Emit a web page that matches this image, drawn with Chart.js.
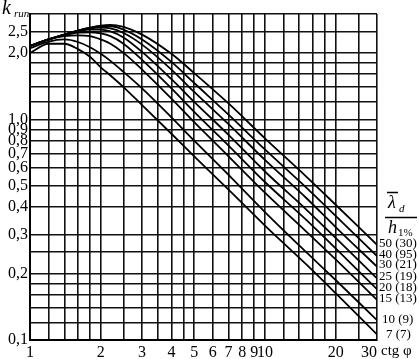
<!DOCTYPE html>
<html>
<head>
<meta charset="utf-8">
<script src="https://cdn.jsdelivr.net/npm/chart.js@4/dist/chart.umd.min.js"></script>
<style>
  html, body { margin: 0; padding: 0; background: #fff; }
  #wrap { width: 419px; height: 359px; }
</style>
</head>
<body>
<div id="wrap"><canvas id="chart" width="419" height="359"></canvas></div>
<script>
// ============================================================
// Data
// ============================================================
const xValues = [1, 1.2, 1.4, 1.6, 1.8, 2, 2.2, 2.5, 3, 4, 5, 7, 10, 15, 20, 30];

const k50 = [2.15, 2.3, 2.42, 2.52, 2.6, 2.66, 2.68, 2.62, 2.42, 1.98, 1.62, 1.18, 0.82, 0.55, 0.41, 0.27];
const k40 = [2.15, 2.3, 2.42, 2.52, 2.6, 2.64, 2.64, 2.55, 2.3, 1.82, 1.46, 1.05, 0.73, 0.49, 0.365, 0.24];
const k30 = [2.15, 2.3, 2.42, 2.52, 2.58, 2.6, 2.58, 2.46, 2.18, 1.68, 1.33, 0.95, 0.655, 0.44, 0.325, 0.215];
const k25 = [2.15, 2.3, 2.42, 2.5, 2.55, 2.55, 2.5, 2.35, 2.02, 1.52, 1.2, 0.85, 0.58, 0.39, 0.29, 0.19];
const k20 = [2.15, 2.3, 2.4, 2.47, 2.48, 2.45, 2.38, 2.2, 1.86, 1.38, 1.08, 0.76, 0.52, 0.35, 0.26, 0.17];
const k15 = [2.15, 2.3, 2.38, 2.4, 2.38, 2.3, 2.2, 2.0, 1.68, 1.24, 0.97, 0.68, 0.465, 0.31, 0.232, 0.152];
const k10 = [2.1, 2.25, 2.3, 2.24, 2.12, 1.98, 1.84, 1.64, 1.38, 1.02, 0.8, 0.56, 0.38, 0.25, 0.187, 0.123];
const k7  = [2.0, 2.2, 2.2, 2.08, 1.92, 1.72, 1.58, 1.4, 1.16, 0.86, 0.68, 0.48, 0.33, 0.22, 0.163, 0.106];

const seriesList = [k50, k40, k30, k25, k20, k15, k10, k7];
const seriesNames = ["50 (30)", "40 (95)", "30 (21)", "25 (19)", "20 (18)", "15 (13)", "10 (9)", "7 (7)"];

// grid of the log paper and the values that carry a label
const xGrid = [1, 1.2, 1.4, 1.6, 1.8, 2, 2.5, 3, 3.5, 4, 4.5, 5, 6, 7, 8, 9, 10, 12, 14, 16, 18, 20, 25, 30];
const xTickLabels = [1, 2, 3, 4, 5, 6, 7, 8, 9, 10, 20, 30];
const yGrid = [0.1, 0.12, 0.14, 0.16, 0.18, 0.2, 0.25, 0.3, 0.4, 0.5, 0.6, 0.7, 0.8, 0.9, 1, 1.2, 1.4, 1.6, 1.8, 2, 2.5, 3];
const yTickLabels = [0.1, 0.2, 0.3, 0.4, 0.5, 0.6, 0.7, 0.8, 0.9, 1, 2, 2.5];

// ============================================================
// Helpers
// ============================================================
const SERIF = "'Liberation Serif', 'DejaVu Serif', serif";
const fmtComma = (v) => v.toFixed(1).replace(".", ",");
const near = (a, b) => Math.abs(a - b) < 1e-6;

function xLabel(v) {
  if (!xTickLabels.some((t) => near(t, v))) return "";
  // last label sits left of the line so "ctg φ" fits after it
  return near(v, 30) ? "30\u2003" : String(v);
}

// label y positions beside the right border (layout only)
const nameY = [244, 255, 265, 277, 288, 299, 320, 335];

const textPlugin = {
  id: "textPlugin",
  afterDraw(chart) {
    const ctx = chart.ctx;
    const area = chart.chartArea;
    ctx.save();
    ctx.fillStyle = "#000";
    ctx.strokeStyle = "#000";
    ctx.textAlign = "left";
    ctx.textBaseline = "alphabetic";

    // axis title k_run
    ctx.font = "italic 20px " + SERIF;
    ctx.fillText("k", 2, 14);
    ctx.font = "italic 11px " + SERIF;
    ctx.fillText("run", 14, 17);

    // ctg φ after the last x label
    ctx.font = "15px " + SERIF;
    ctx.fillText("ctg φ", area.right + 4, 355);

    // fraction λd / h1%
    ctx.font = "italic 18px " + SERIF;
    ctx.fillText("λ", 388, 208);
    ctx.font = "italic 11px " + SERIF;
    ctx.fillText("d", 399, 212);
    ctx.lineWidth = 1.5;
    ctx.beginPath();
    ctx.moveTo(387, 192.5);
    ctx.lineTo(398, 192.5);
    ctx.moveTo(385, 217.5);
    ctx.lineTo(417, 217.5);
    ctx.stroke();
    ctx.font = "italic 18px " + SERIF;
    ctx.fillText("h", 388, 233);
    ctx.font = "11px " + SERIF;
    ctx.fillText("1%", 398, 236);

    // curve names
    ctx.font = "13px " + SERIF;
    ctx.textBaseline = "middle";
    seriesNames.forEach((name, i) => {
      ctx.fillText(name, area.right + 2 + (i >= 6 ? 3 : 0) + (i === 7 ? 4 : 0), nameY[i]);
    });
    ctx.restore();
  },
};

// ============================================================
// Chart
// ============================================================
const datasets = seriesList.map((vals, i) => ({
  label: seriesNames[i],
  data: xValues.map((x, j) => ({ x: x, y: vals[j] })),
  borderColor: "#000",
  borderWidth: 1.8,
  pointRadius: 0,
  fill: false,
  cubicInterpolationMode: "monotone",
}));

new Chart(document.getElementById("chart"), {
  type: "line",
  data: { datasets },
  options: {
    responsive: false,
    animation: false,
    layout: { padding: { left: 0, right: 42, top: 14, bottom: 0 } },
    plugins: { legend: { display: false }, tooltip: { enabled: false } },
    scales: {
      x: {
        type: "logarithmic",
        min: 1,
        max: 30,
        afterBuildTicks: (scale) => { scale.ticks = xGrid.map((v) => ({ value: v })); },
        afterFit: (scale) => { scale.height = 19; },
        grid: { color: "#111", lineWidth: 1.6, drawTicks: false },
        border: { color: "#000", width: 2 },
        ticks: {
          autoSkip: false,
          maxRotation: 0,
          padding: 3,
          color: "#000",
          font: { family: SERIF, size: 16 },
          callback: xLabel,
        },
      },
      y: {
        type: "logarithmic",
        min: 0.1,
        max: 3,
        afterBuildTicks: (scale) => { scale.ticks = yGrid.map((v) => ({ value: v })); },
        afterFit: (scale) => { scale.width = 30; },
        grid: { color: "#111", lineWidth: 1.6, drawTicks: false },
        border: { color: "#000", width: 2 },
        ticks: {
          autoSkip: false,
          padding: 2,
          color: "#000",
          font: { family: SERIF, size: 16 },
          callback: (v) => (yTickLabels.some((t) => near(t, v)) ? fmtComma(v) : ""),
        },
      },
    },
  },
  plugins: [textPlugin],
});
</script>
</body>
</html>
